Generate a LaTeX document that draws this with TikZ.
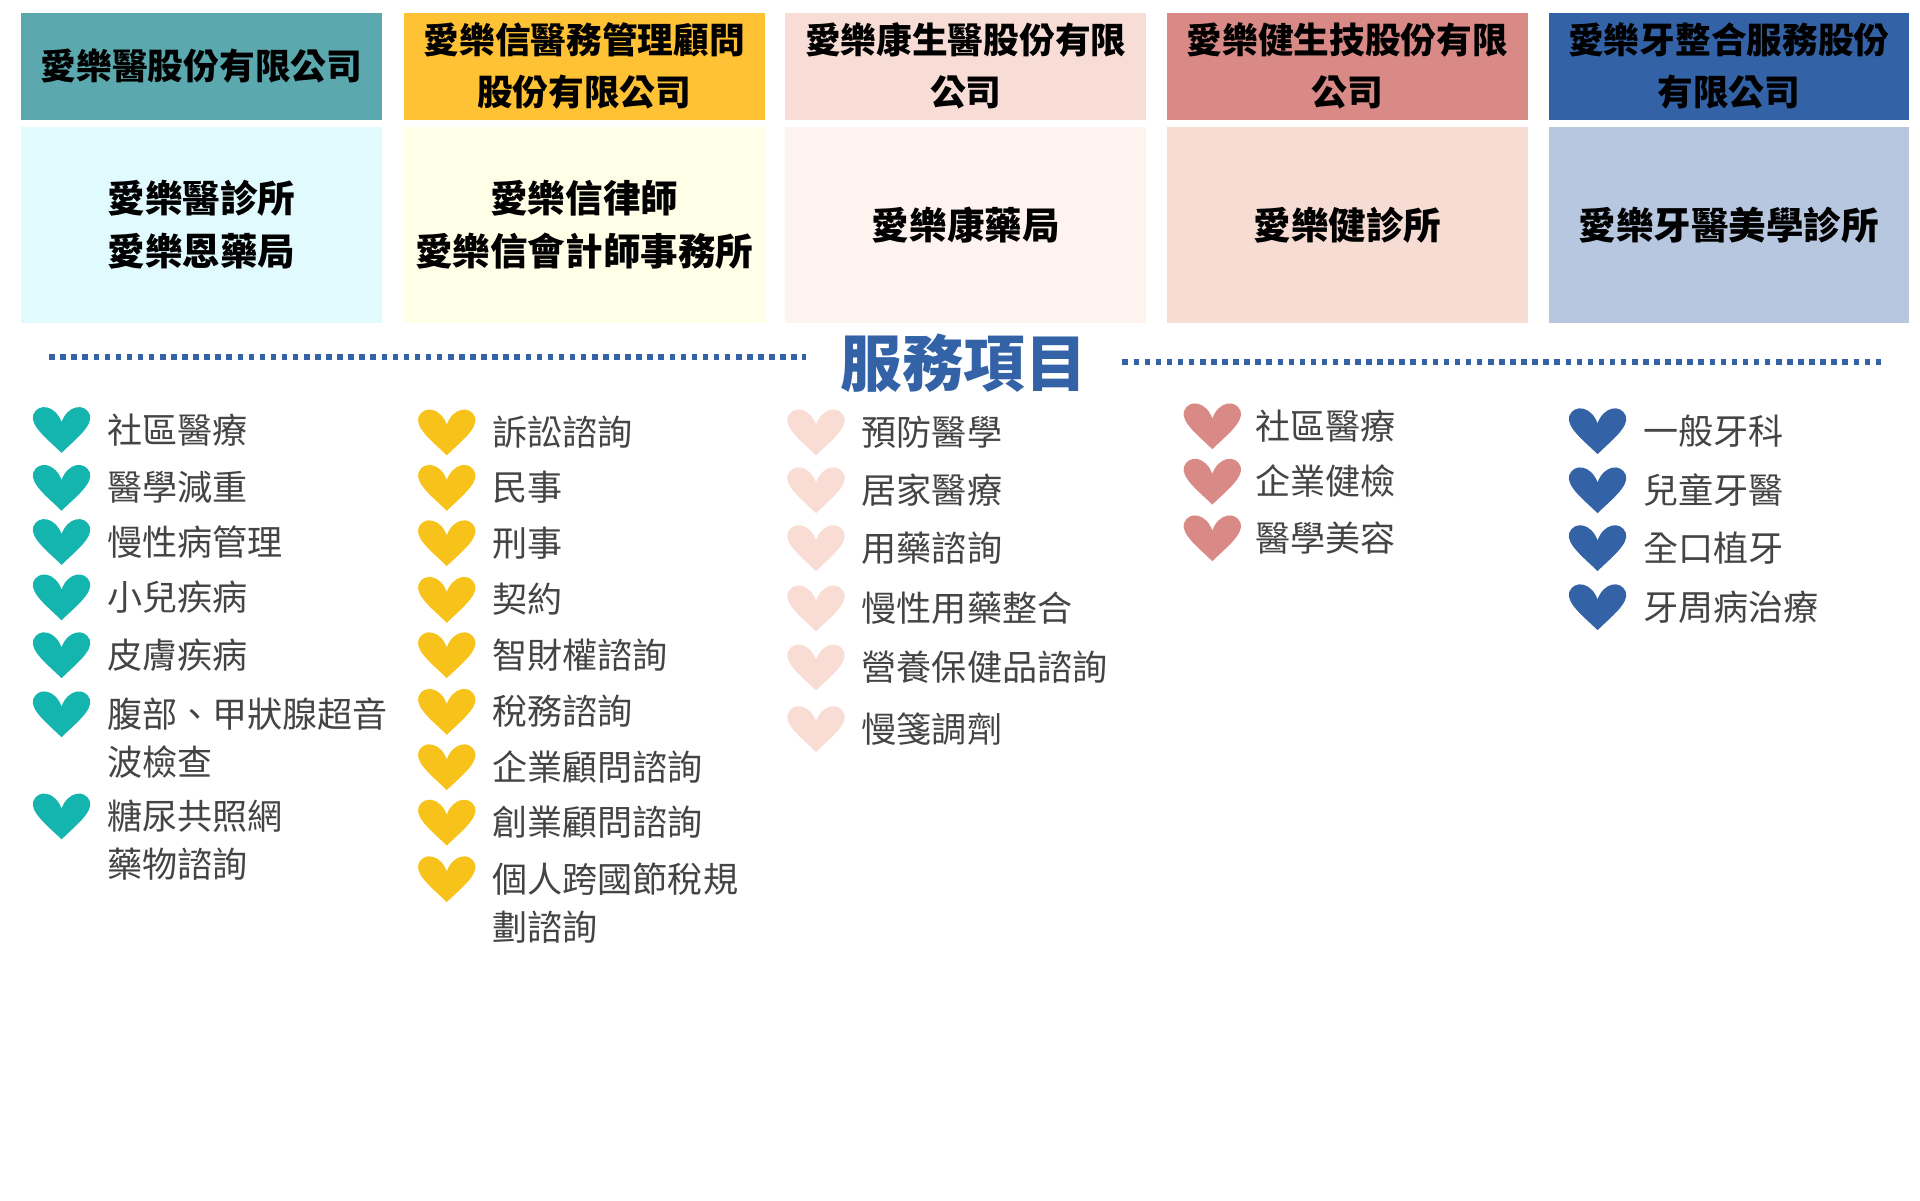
\documentclass[tikz,border=0pt]{standalone}
\usepackage{fontspec}
\setmainfont{Noto Sans CJK TC}
\usepackage{xcolor}
\definecolor{tealH}{HTML}{5BA8AE}\definecolor{tealB}{HTML}{E0FAFD}\definecolor{tealK}{HTML}{14B5AE}
\definecolor{yelH}{HTML}{FFC235}\definecolor{yelB}{HTML}{FFFEE6}\definecolor{yelK}{HTML}{F7C31A}
\definecolor{pinkH}{HTML}{F7DDD5}\definecolor{pinkB}{HTML}{FEF3EF}\definecolor{pinkK}{HTML}{F9DCD3}
\definecolor{redH}{HTML}{D98A87}\definecolor{redB}{HTML}{F7DCD4}\definecolor{redK}{HTML}{D98A87}
\definecolor{bluH}{HTML}{3363A6}\definecolor{bluB}{HTML}{B8C7E0}\definecolor{bluK}{HTML}{3363A6}
\definecolor{itemgray}{HTML}{444444}
\tikzset{
  headbox/.style={minimum width=293pt,minimum height=87pt,anchor=north west,inner sep=0pt,align=center,font=\fontsize{29}{42}\selectfont\bfseries},
  bodybox/.style={minimum width=293pt,minimum height=159pt,anchor=north west,inner sep=0pt,align=center,font=\fontsize{30.5}{43}\selectfont\bfseries},
  item/.style={anchor=base west,inner sep=0pt,align=left,text=itemgray,font=\fontsize{28.5}{39}\selectfont},
  heart/.pic={\fill (0,18) .. controls (-10,8) and (-26,-4) .. (-23,-13) .. controls (-19,-23) and (-5,-21) .. (0,-7) .. controls (5,-21) and (19,-23) .. (23,-13) .. controls (26,-4) and (10,8) .. (0,18);}
}
\begin{document}
\begin{tikzpicture}[x=1pt,y=-1pt]
  \useasboundingbox[fill=white] (0,0) rectangle (1560,975);
  % company headers and clinics
  \node[headbox,fill=tealH] (h1) at (17,10) {愛樂醫股份有限公司};
  \node[headbox,fill=yelH] (h2) at (328,10) {愛樂信醫務管理顧問\\股份有限公司};
  \node[headbox,fill=pinkH] (h3) at (638,10) {愛樂康生醫股份有限\\公司};
  \node[headbox,fill=redH] (h4) at (948,10) {愛樂健生技股份有限\\公司};
  \node[headbox,fill=bluH] (h5) at (1258,10) {愛樂牙整合服務股份\\有限公司};
  \node[bodybox,fill=tealB] (b1) at (17,103) {愛樂醫診所\\愛樂恩藥局};
  \node[bodybox,fill=yelB] (b2) at (328,103) {愛樂信律師\\愛樂信會計師事務所};
  \node[bodybox,fill=pinkB] (b3) at (638,103) {愛樂康藥局};
  \node[bodybox,fill=redB] (b4) at (948,103) {愛樂健診所};
  \node[bodybox,fill=bluB] (b5) at (1258,103) {愛樂牙醫美學診所};

  % title with dotted rules
  \node[text=bluH,font=\fontsize{50}{56}\selectfont\bfseries] (title) at (783,295) {服務項目};
  \coordinate (l1) at (40,290); \coordinate (l2) at (655,290);
  \coordinate (r1) at (912,294); \coordinate (r2) at (1528,294);
  \draw[bluH,line width=4.5pt,dash pattern=on 4.5pt off 4.5pt] (l1) -- (l2);
  \draw[bluH,line width=4.5pt,dash pattern=on 4.5pt off 4.5pt] (r1) -- (r2);

  % service lists (\n: extra lines below the first)
  \foreach \y/\n/\t [count=\i] in {350/0/社區醫療,397/0/醫學減重,441/0/慢性病管理,486/0/小兒疾病,533/0/皮膚疾病,581/1/{腹部、甲狀腺超音\\波檢查},664/1/{糖尿共照網\\藥物諮詢}}{
    \pic[tealK] at (50,\y) {heart};
    \node[item] (a\i) at (87,\y+10+39*\n) {\t};
  }
  \foreach \y/\n/\t [count=\i] in {352/0/訴訟諮詢,397/0/民事,442/0/刑事,488/0/契約,533/0/智財權諮詢,579/0/稅務諮詢,624/0/企業顧問諮詢,669/0/創業顧問諮詢,715/1/{個人跨國節稅規\\劃諮詢}}{
    \pic[yelK] at (363,\y) {heart};
    \node[item] (c\i) at (400,\y+10+39*\n) {\t};
  }
  \foreach \y/\t [count=\i] in {352/預防醫學,399/居家醫療,446/用藥諮詢,495/慢性用藥整合,543/營養保健品諮詢,593/慢箋調劑}{
    \pic[pinkK] at (663,\y) {heart};
    \node[item] (d\i) at (700,\y+10) {\t};
  }
  \foreach \y/\t [count=\i] in {347/社區醫療,392/企業健檢,438/醫學美容}{
    \pic[redK] at (985,\y) {heart};
    \node[item] (e\i) at (1020,\y+10) {\t};
  }
  \foreach \y/\t [count=\i] in {351/一般牙科,399/兒童牙醫,446/全口植牙,494/牙周病治療}{
    \pic[bluK] at (1298,\y) {heart};
    \node[item] (f\i) at (1335,\y+10) {\t};
  }
\end{tikzpicture}
\end{document}
